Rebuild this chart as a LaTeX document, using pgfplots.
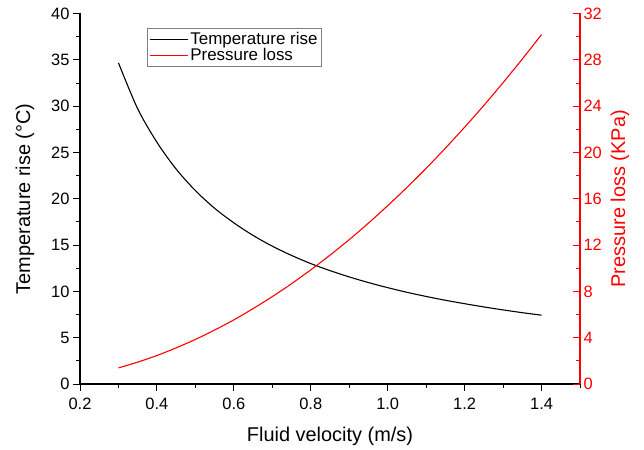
\documentclass[border=0pt]{standalone}
\usepackage{pgfplots}
\pgfplotsset{compat=1.18}
\usepackage{fontspec}
\setmainfont{Liberation Sans}
\begin{document}
\begin{tikzpicture}
\pgfplotsset{
  common/.style={
    scale only axis, width=500bp, height=370.5bp,
    at={(0,0)}, anchor=south west,
    xmin=0.2, xmax=1.5,
    /pgf/number format/assume math mode=true,
    tick label style={font=\fontsize{16.5}{19}\selectfont},
    label style={font=\fontsize{20}{23}\selectfont},
    axis line style={line width=1.1pt},
    major tick length=7bp, minor tick length=4bp,
    every tick/.style={line width=0.9pt},
  }
}
\begin{axis}[common,
  axis x line*=bottom, axis y line*=left,
  tick align=outside,
  ymin=0, ymax=40,
  ytick={0,5,...,40}, minor ytick={2.5,7.5,...,37.5},
  xtick={0.2,0.4,...,1.41}, minor xtick={0.3,0.5,...,1.51},
  xticklabel style={yshift=-4bp,/pgf/number format/.cd,fixed,fixed zerofill,precision=1},
  xlabel={Fluid velocity (m/s)},
  ylabel={Temperature rise (°C)},
  xlabel style={yshift=-10bp},
  ylabel style={yshift=10bp},
  legend style={at={(0.134,0.961)}, anchor=north west, draw=gray, line width=0.6pt,
    font=\fontsize{17}{19}\selectfont, inner sep=2bp, row sep=-1.5bp},
  legend cell align=left,
  legend image code/.code={\draw[#1] (4bp,0bp) -- (42bp,0bp);},
]
\addplot[black, line width=1.1pt, smooth] table {
0.30 34.67
0.35 29.71
0.40 26.10
0.45 23.20
0.50 20.88
0.55 18.97
0.60 17.40
0.65 16.04
0.70 14.88
0.75 13.88
0.80 13.00
0.85 12.24
0.90 11.56
0.95 10.95
1.00 10.40
1.05 9.90
1.10 9.45
1.15 9.04
1.20 8.67
1.25 8.32
1.30 8.00
1.35 7.70
1.40 7.43
};
\addlegendentry{Temperature rise}
\addlegendimage{red, line width=1.1pt}
\addlegendentry{Pressure loss}
\end{axis}
\begin{axis}[common,
  axis x line=none, axis y line*=right,
  tick align=inside,
  ymin=0, ymax=32,
  ytick={0,4,...,32}, minor ytick={2,6,...,30},
  axis line style={red, line width=1.1pt},
  y tick style={red},
  yticklabel style={red},
  ylabel={Pressure loss (KPa)},
  ylabel style={red, yshift=-2bp},
]
\addplot[red, line width=1.1pt, smooth] table {
0.30 1.39
0.35 1.89
0.40 2.46
0.45 3.12
0.50 3.85
0.55 4.66
0.60 5.54
0.65 6.51
0.70 7.55
0.75 8.66
0.80 9.86
0.85 11.13
0.90 12.47
0.95 13.90
1.00 15.40
1.05 16.98
1.10 18.63
1.15 20.37
1.20 22.18
1.25 24.06
1.30 26.03
1.35 28.07
1.40 30.18
};
\end{axis}
\pgfresetboundingbox
\useasboundingbox (-80bp,-66bp) rectangle (564bp,384bp);
\end{tikzpicture}
\end{document}
